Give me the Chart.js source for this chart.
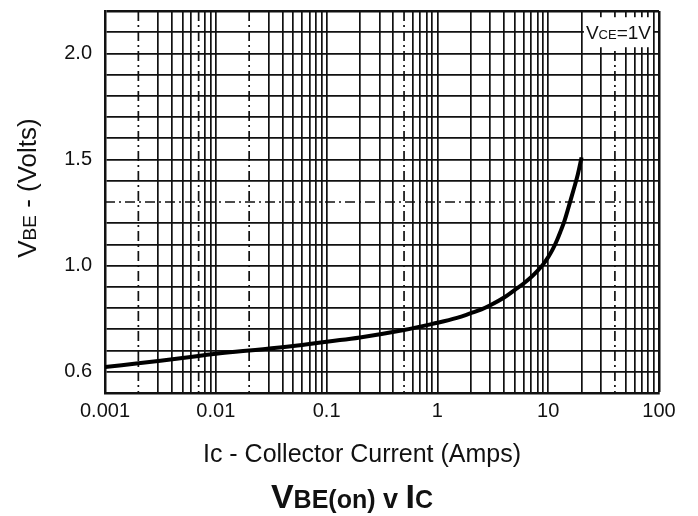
<!DOCTYPE html>
<html>
<head>
<meta charset="utf-8">
<script src="https://cdn.jsdelivr.net/npm/chart.js@4.4.0/dist/chart.umd.min.js"></script>
<style>
    body { margin: 0; background: #fff; }
</style>
</head>
<body>
<canvas id="chartVbe" width="698" height="516"></canvas>
<script>
// VBE(on) against collector current, VCE = 1V
var current = [0.001, 0.002, 0.005, 0.01, 0.02, 0.05, 0.1, 0.2, 0.5, 1, 1.5, 2, 2.5, 3, 4, 5, 6, 7, 8, 9, 10, 11, 12, 13, 14, 15, 17, 18.5, 20];
var vbe = [0.522, 0.54, 0.565, 0.585, 0.6, 0.621, 0.642, 0.662, 0.697, 0.731, 0.754, 0.776, 0.794, 0.813, 0.85, 0.886, 0.916, 0.945, 0.975, 1.006, 1.04, 1.078, 1.12, 1.165, 1.21, 1.262, 1.36, 1.43, 1.51];

var decades = [0.001, 0.01, 0.1, 1, 10];
var xTickValues = [0.001, 0.01, 0.1, 1, 10, 100];
var xTickLabels = ['0.001', '0.01', '0.1', '1', '10', '100'];
var yTickValues = [0.5, 1.0, 1.5, 2.0];
var yTickLabels = ['0.6', '1.0', '1.5', '2.0'];

// grid lines that are printed broken (dash-dot)
var xDashed = [0.002, 0.007, 0.02, 0.5, 40];
var yDashed = [1.3];

var FONT = "'Liberation Sans', Arial, sans-serif";
var INK = '#111';

const near = (a, b) => Math.abs(a - b) < 1e-6 * Math.max(1, Math.abs(b));

// every 1..9 step of each decade, plus the last one
var logTicks = [];
decades.forEach((d) => {
    for (let k = 1; k <= 9; k++) logTicks.push({ value: Number((d * k).toPrecision(6)) });
});
logTicks.push({ value: 100 });

// text made of pieces in different sizes, centred on cx
function drawPieces(ctx, pieces, cx, baseline) {
    let total = 0;
    pieces.forEach((p) => { ctx.font = p.font; total += ctx.measureText(p.text).width; });
    let x = cx - total / 2;
    ctx.textAlign = 'left';
    ctx.textBaseline = 'alphabetic';
    pieces.forEach((p) => {
        ctx.font = p.font;
        ctx.fillText(p.text, x, baseline);
        x += ctx.measureText(p.text).width;
    });
    return total;
}

const brokenGrid = {
    id: 'brokenGrid',
    beforeDatasetsDraw(chart) {
        const { ctx, chartArea: a, scales } = chart;
        ctx.save();
        ctx.strokeStyle = INK;
        ctx.lineWidth = 1.7;
        ctx.setLineDash([10, 4, 2, 4]);
        xDashed.forEach((v) => {
            const px = scales.x.getPixelForValue(v);
            ctx.beginPath();
            ctx.moveTo(px, a.top);
            ctx.lineTo(px, a.bottom);
            ctx.stroke();
        });
        yDashed.forEach((v) => {
            const py = scales.y.getPixelForValue(v);
            ctx.beginPath();
            ctx.moveTo(a.left, py);
            ctx.lineTo(a.right, py);
            ctx.stroke();
        });
        ctx.restore();
    },
};

const labels = {
    id: 'labels',
    afterDraw(chart) {
        const { ctx, chartArea: a, scales } = chart;
        ctx.save();
        ctx.fillStyle = INK;

        // VCE=1V note on the 2.1 line
        const vce = [
            { text: 'V', font: '19px ' + FONT },
            { text: 'CE', font: '13px ' + FONT },
            { text: '=1V', font: '19px ' + FONT },
        ];
        let w = 0;
        vce.forEach((p) => { ctx.font = p.font; w += ctx.measureText(p.text).width; });
        const cy = scales.y.getPixelForValue(2.1);
        const cx = a.right - 8 - w / 2;
        ctx.fillStyle = '#fff';
        ctx.fillRect(cx - w / 2 - 2, cy - 15, w + 4, 30);
        ctx.fillStyle = INK;
        drawPieces(ctx, vce, cx, cy + 7);

        // axis titles
        drawPieces(ctx, [{ text: 'Ic - Collector Current (Amps)', font: '25px ' + FONT }], 362, 462);

        ctx.save();
        ctx.translate(36, 188);
        ctx.rotate(-Math.PI / 2);
        drawPieces(ctx, [
            { text: 'V', font: '26px ' + FONT },
            { text: 'BE', font: '19px ' + FONT },
            { text: ' - (Volts)', font: '26px ' + FONT },
        ], 0, 0);
        ctx.restore();

        // chart title
        drawPieces(ctx, [
            { text: 'V', font: 'bold 34px ' + FONT },
            { text: 'BE(on)', font: 'bold 25px ' + FONT },
            { text: ' v ', font: 'bold 27px ' + FONT },
            { text: 'I', font: 'bold 34px ' + FONT },
            { text: 'C', font: 'bold 25px ' + FONT },
        ], 352, 508);
        ctx.restore();
    },
};

const cvb = document.getElementById('chartVbe');
var chartVbe = new Chart(cvb, {
    type: 'line',
    plugins: [brokenGrid, labels],
    data: {
        datasets: [
            {
                data: current.map((c, i) => ({ x: c, y: vbe[i] })),
                borderColor: '#000',
                borderWidth: 4,
                pointRadius: 0,
                tension: 0.4,
            },
        ],
    },
    options: {
        responsive: false,
        animation: false,
        layout: {
            padding: { top: 11, right: 39, left: 0, bottom: 0 },
        },
        scales: {
            x: {
                type: 'logarithmic',
                min: 0.001,
                max: 100,
                afterBuildTicks: (scale) => { scale.ticks = logTicks.slice(); },
                afterFit: (scale) => { scale.height = 123; },
                border: { display: true, color: INK, width: 2.5 },
                grid: {
                    drawTicks: false,
                    color: (c) => (xDashed.some((v) => near(c.tick.value, v)) ? 'rgba(0,0,0,0)' : INK),
                    lineWidth: (c) => (near(c.tick.value, 100) ? 2.5 : 1.7),
                },
                ticks: {
                    autoSkip: false,
                    maxRotation: 0,
                    padding: 6,
                    color: INK,
                    font: { family: FONT, size: 20 },
                    callback: (value) => {
                        const i = xTickValues.findIndex((v) => near(value, v));
                        return i >= 0 ? xTickLabels[i] : '';
                    },
                },
            },
            y: {
                type: 'linear',
                min: 0.4,
                max: 2.2,
                afterFit: (scale) => {
                    scale.width = 105;
                    scale.paddingTop = 0;
                    scale.paddingBottom = 0;
                },
                border: { display: true, color: INK, width: 2.5 },
                grid: {
                    drawTicks: false,
                    color: (c) => (yDashed.some((v) => near(c.tick.value, v)) ? 'rgba(0,0,0,0)' : INK),
                    lineWidth: (c) => (near(c.tick.value, 2.2) ? 2.5 : 1.7),
                },
                ticks: {
                    stepSize: 0.1,
                    autoSkip: false,
                    padding: 13,
                    color: INK,
                    font: { family: FONT, size: 20 },
                    callback: (value) => {
                        const i = yTickValues.findIndex((v) => near(value, v));
                        return i >= 0 ? yTickLabels[i] : '';
                    },
                },
            },
        },
        plugins: {
            legend: { display: false },
            tooltip: { enabled: false },
        },
    },
});
</script>
</body>
</html>
